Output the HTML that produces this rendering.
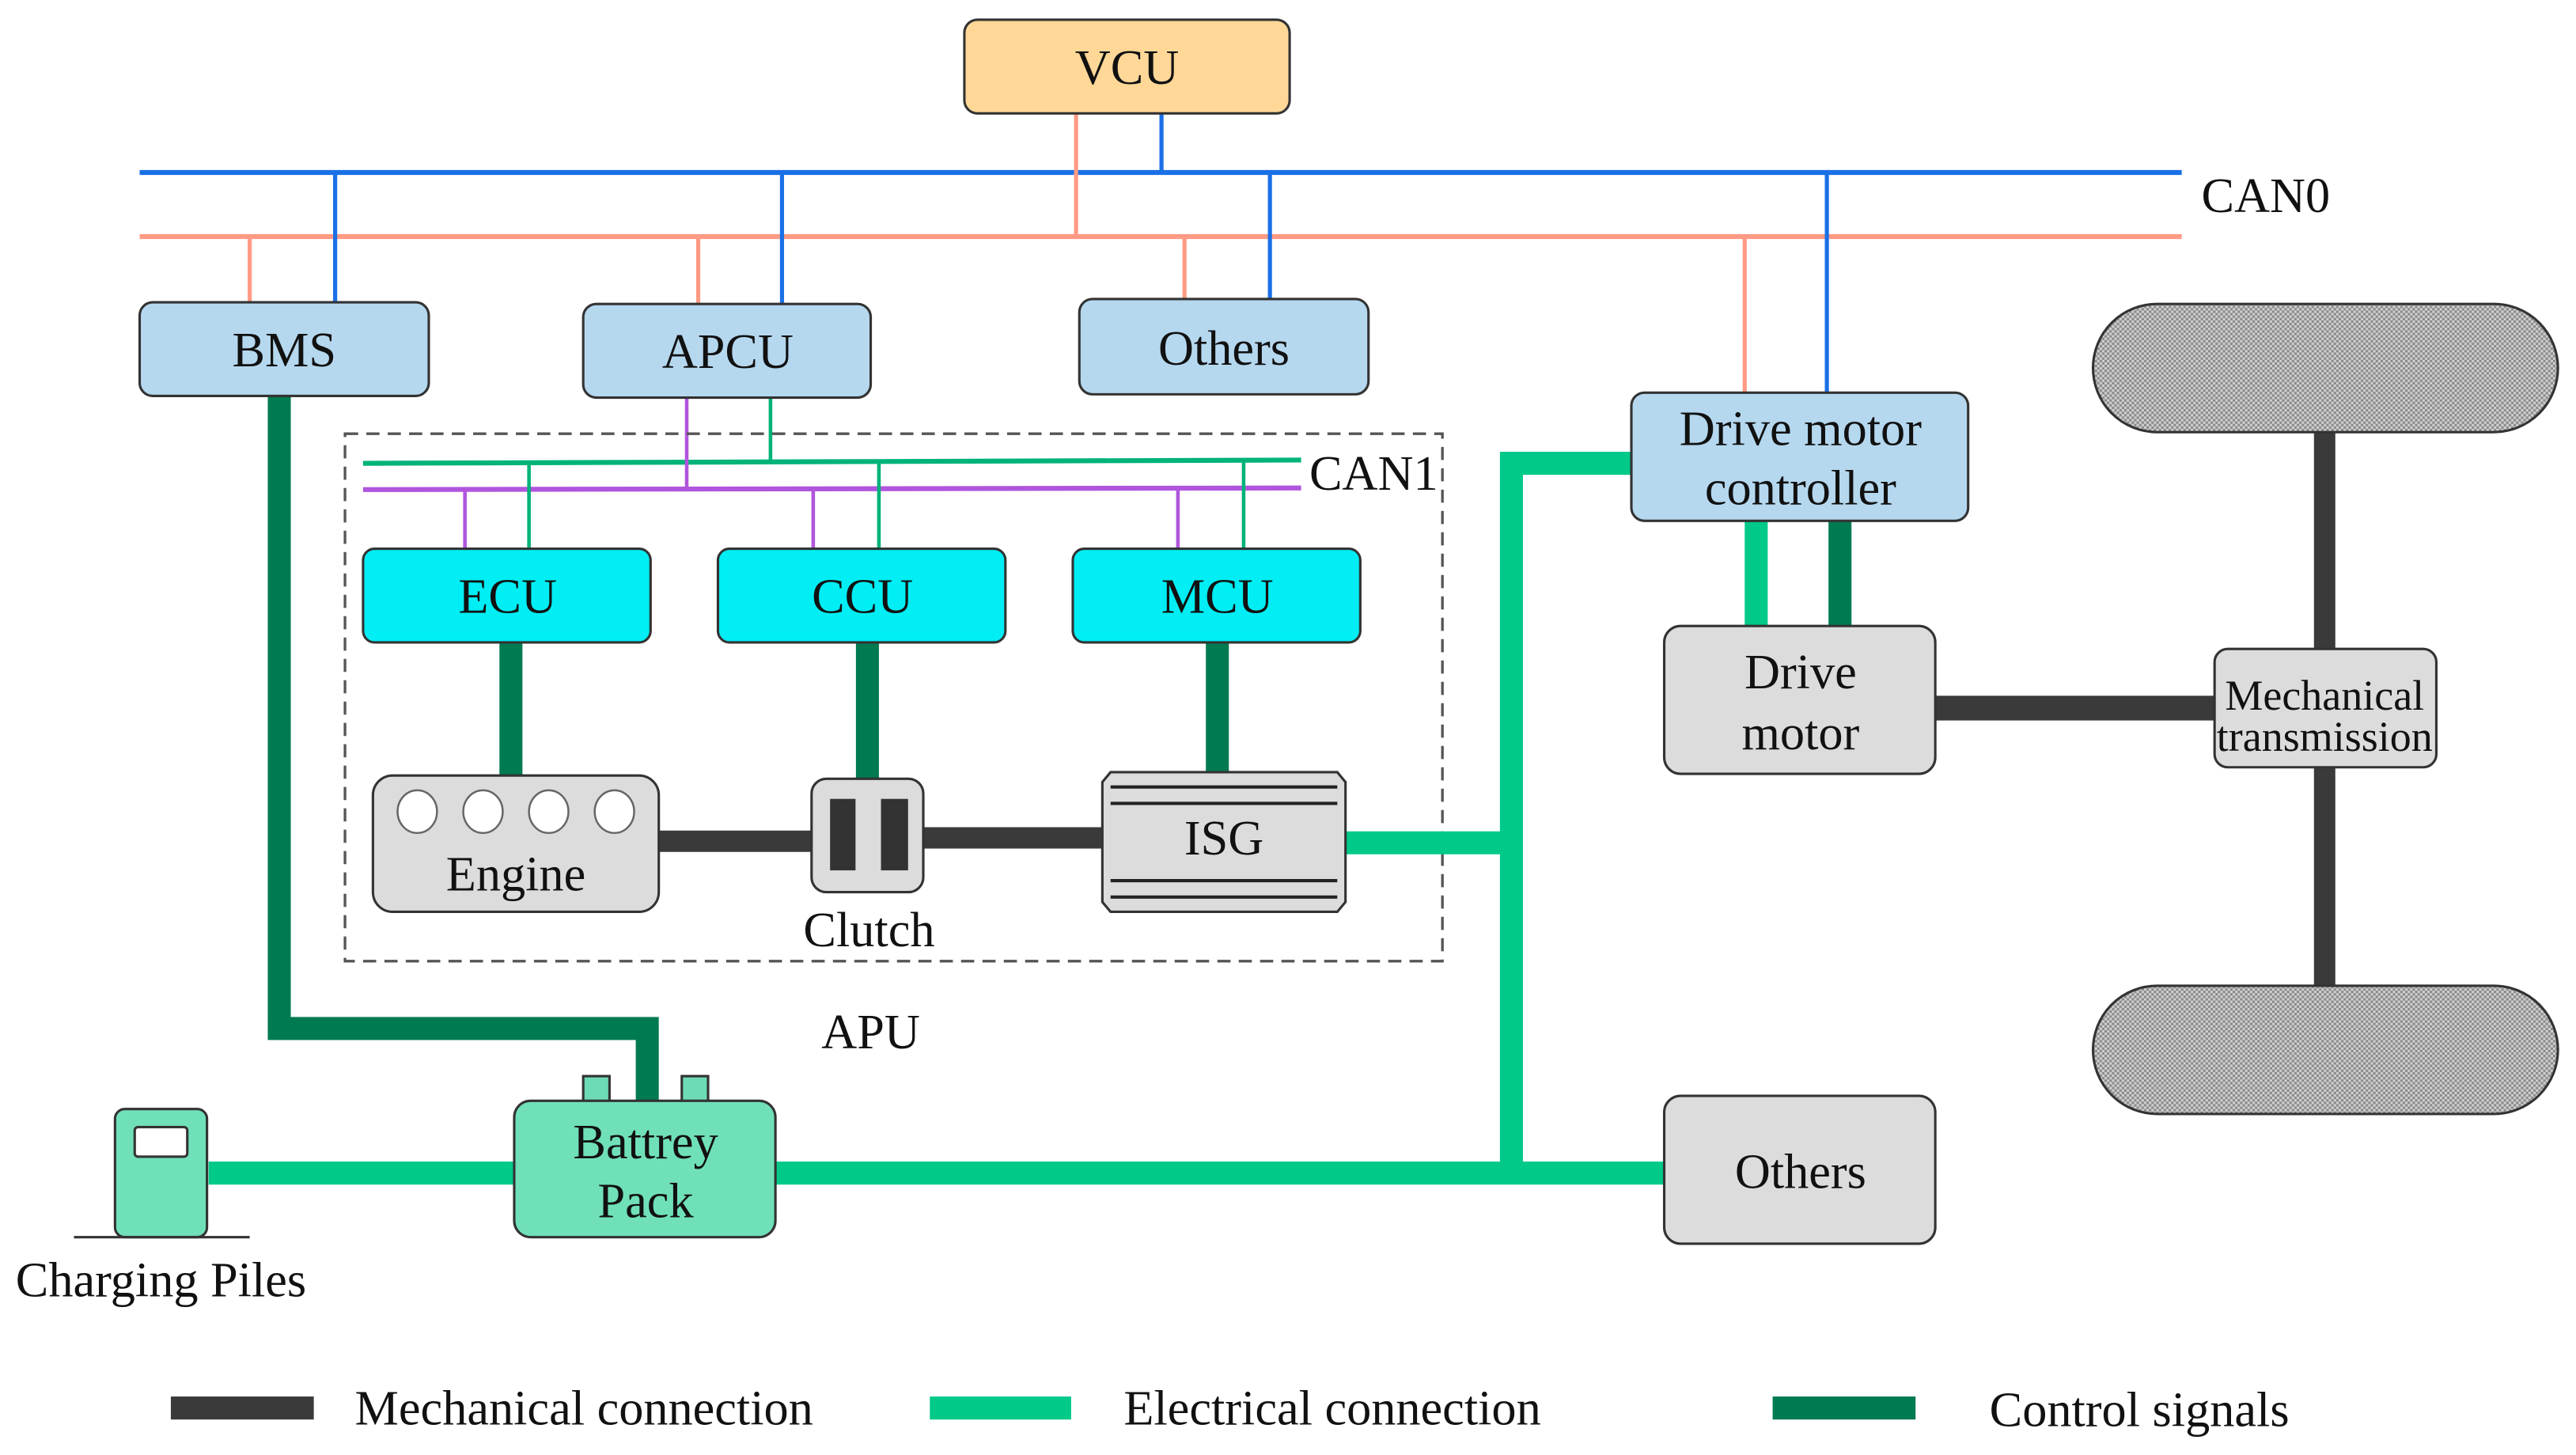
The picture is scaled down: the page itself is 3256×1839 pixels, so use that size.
<!DOCTYPE html>
<html><head><meta charset="utf-8"><style>html,body{margin:0;padding:0;background:#fff}svg{display:block}text{font-family:"Liberation Serif",serif;fill:#111}</style></head>
<body>
<svg width="3256" height="1839" viewBox="0 0 1568 885.6" preserveAspectRatio="none" xmlns="http://www.w3.org/2000/svg">
<defs>
<pattern id="chk" width="3" height="3" patternUnits="userSpaceOnUse"><rect width="3" height="3" fill="#d0d0d0"/><rect width="1.5" height="1.5" fill="#8a8a8a"/><rect x="1.5" y="1.5" width="1.5" height="1.5" fill="#8a8a8a"/></pattern>
</defs>
<g fill="none" stroke-width="3">
<line x1="85" y1="105" x2="1328" y2="105" stroke="#1a70e6"/>
<line x1="85" y1="144" x2="1328" y2="144" stroke="#ff9a84"/>
<g stroke="#ff9a84" stroke-width="2.5">
<line x1="655" y1="69" x2="655" y2="144"/><line x1="152" y1="144" x2="152" y2="184"/><line x1="425" y1="144" x2="425" y2="185"/><line x1="721" y1="144" x2="721" y2="182"/><line x1="1062" y1="144" x2="1062" y2="239"/>
</g>
<g stroke="#1a70e6" stroke-width="2.5">
<line x1="707" y1="69" x2="707" y2="105"/><line x1="204" y1="105" x2="204" y2="184"/><line x1="476" y1="105" x2="476" y2="185"/><line x1="773" y1="105" x2="773" y2="182"/><line x1="1112" y1="105" x2="1112" y2="239"/>
</g>
<line x1="221" y1="282" x2="792" y2="280" stroke="#00b37a"/>
<line x1="221" y1="298" x2="792" y2="297" stroke="#b055dd"/>
<g stroke="#00b37a" stroke-width="2.2"><line x1="469" y1="242" x2="469" y2="281"/><line x1="322" y1="281" x2="322" y2="334"/><line x1="535" y1="281" x2="535" y2="334"/><line x1="757" y1="281" x2="757" y2="334"/></g>
<g stroke="#b055dd" stroke-width="2.2"><line x1="418" y1="242" x2="418" y2="297"/><line x1="283" y1="297" x2="283" y2="334"/><line x1="495" y1="297" x2="495" y2="334"/><line x1="717" y1="297" x2="717" y2="334"/></g>
<rect x="210" y="264" width="668" height="321" stroke="#555" stroke-width="1.6" stroke-dasharray="8,5"/>
<g stroke="#007a50" stroke-width="14">
<line x1="311" y1="391" x2="311" y2="473"/><line x1="528" y1="391" x2="528" y2="475"/><line x1="741" y1="391" x2="741" y2="471"/>
<polyline points="170,241 170,626 394,626 394,670"/>
<line x1="1120" y1="317" x2="1120" y2="381"/>
</g>
<g stroke="#00c98a" stroke-width="14">
<line x1="819" y1="513" x2="920" y2="513"/>
<polyline points="993,282 920,282 920,714"/>
<line x1="127" y1="714" x2="1013" y2="714"/>
<line x1="1069" y1="317" x2="1069" y2="381"/>
</g>
<g stroke="#3a3a3a" stroke-width="13">
<line x1="401" y1="512" x2="494" y2="512"/><line x1="562" y1="510" x2="671" y2="510"/>
<line x1="1178" y1="431" x2="1348" y2="431" stroke-width="15"/>
<line x1="1415" y1="263" x2="1415" y2="395"/><line x1="1415" y1="467" x2="1415" y2="600"/>
</g>
</g>
<g stroke="#333" stroke-width="1.5">
<rect x="587" y="12" width="198" height="57" rx="8" fill="#ffd898"/>
<rect x="85" y="184" width="176" height="57" rx="8" fill="#b5d8ef"/>
<rect x="355" y="185" width="175" height="57" rx="8" fill="#b5d8ef"/>
<rect x="657" y="182" width="176" height="58" rx="8" fill="#b5d8ef"/>
<rect x="993" y="239" width="205" height="78" rx="8" fill="#b5d8ef"/>
<rect x="221" y="334" width="175" height="57" rx="7" fill="#00eef4"/>
<rect x="437" y="334" width="175" height="57" rx="7" fill="#00eef4"/>
<rect x="653" y="334" width="175" height="57" rx="7" fill="#00eef4"/>
<rect x="227" y="472" width="174" height="83" rx="12" fill="#dcdcdc"/>
<rect x="494" y="474" width="68" height="69" rx="9" fill="#dcdcdc"/>
<rect x="506" y="487" width="14" height="42" fill="#333"/><rect x="537" y="487" width="15" height="42" fill="#333"/>
<polygon points="676,470 814,470 819,476 819,549 814,555 676,555 671,549 671,476" fill="#dcdcdc"/>
<rect x="1013" y="381" width="165" height="90" rx="10" fill="#dcdcdc"/>
<rect x="1348" y="395" width="135" height="72" rx="8" fill="#dcdcdc"/>
<rect x="1013" y="667" width="165" height="90" rx="10" fill="#dcdcdc"/>
<rect x="1274" y="185" width="283" height="78" rx="39" fill="url(#chk)"/>
<rect x="1274" y="600" width="283" height="78" rx="39" fill="url(#chk)"/>
<rect x="355" y="655" width="16" height="16" fill="#6ddbb5"/><rect x="415" y="655" width="16" height="16" fill="#6ddbb5"/>
<rect x="313" y="670" width="159" height="83" rx="10" fill="#70e0b8"/>
<rect x="70" y="675" width="56" height="78" rx="6" fill="#70e0b8"/>
<rect x="82" y="686" width="32" height="18" rx="2" fill="#fff"/>
<line x1="45" y1="753" x2="152" y2="753"/>
<g fill="#fff" stroke="#666" stroke-width="1.2"><ellipse cx="254" cy="494" rx="12" ry="13"/><ellipse cx="294" cy="494" rx="12" ry="13"/><ellipse cx="334" cy="494" rx="12" ry="13"/><ellipse cx="374" cy="494" rx="12" ry="13"/></g>
<g stroke="#222" stroke-width="2"><line x1="676" y1="479" x2="814" y2="479"/><line x1="676" y1="489" x2="814" y2="489"/><line x1="676" y1="536" x2="814" y2="536"/><line x1="676" y1="546" x2="814" y2="546"/></g>
</g>
<g font-size="30" text-anchor="middle">
<text x="686" y="51">VCU</text>
<text x="173" y="223">BMS</text>
<text x="443" y="224">APCU</text>
<text x="745" y="222">Others</text>
<text x="1096" y="271">Drive motor</text><text x="1096" y="307">controller</text>
<text x="309" y="373">ECU</text><text x="525" y="373">CCU</text><text x="741" y="373">MCU</text>
<text x="314" y="542">Engine</text>
<text x="529" y="576">Clutch</text>
<text x="745" y="520">ISG</text>
<text x="530" y="638">APU</text>
<text x="1096" y="419">Drive</text><text x="1096" y="456">motor</text>
<text x="1096" y="723">Others</text>
<text x="393" y="705">Battrey</text><text x="393" y="741">Pack</text>
<text x="98" y="789">Charging Piles</text>
<text x="1415" y="432" font-size="26">Mechanical</text><text x="1415" y="457" font-size="26">transmission</text>
</g>
<g font-size="30">
<text x="1340" y="129">CAN0</text>
<text x="797" y="298">CAN1</text>
<text x="216" y="867">Mechanical connection</text>
<text x="684" y="867">Electrical connection</text>
<text x="1211" y="868">Control signals</text>
</g>
<rect x="104" y="850" width="87" height="14" fill="#3a3a3a"/>
<rect x="566" y="850" width="86" height="14" fill="#00c98a"/>
<rect x="1079" y="850" width="87" height="14" fill="#007a50"/>
</svg>
</body></html>
